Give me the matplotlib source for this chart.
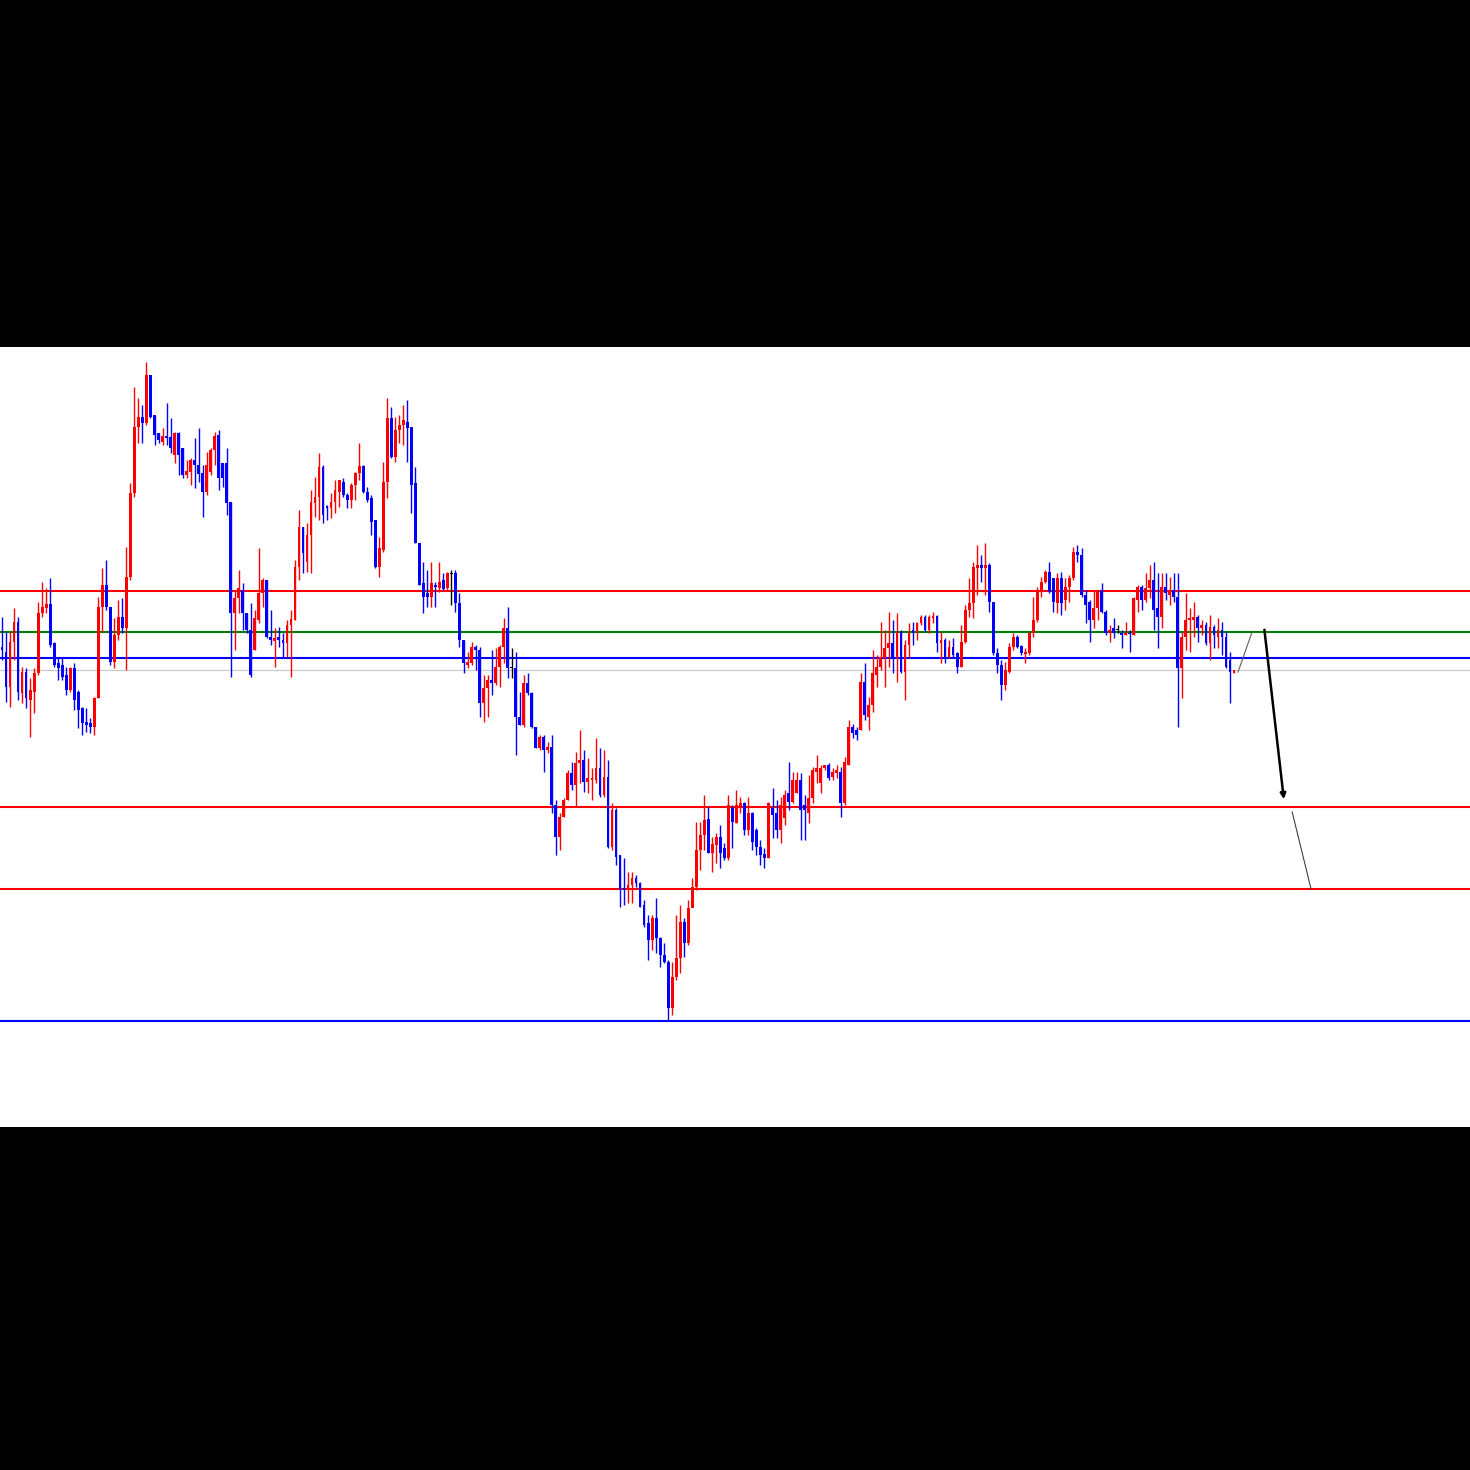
import numpy as np
import matplotlib
matplotlib.use("Agg")
import matplotlib.pyplot as plt

# candle data (price points), one entry per bar
opens = [853,848,813,858,878,807,828,800,808,827,
         887,892,896,857,837,835,825,810,832,808,
         792,778,777,773,802,893,915,893,838,865,
         883,872,923,1007,1073,1083,1077,1125,1085,1067,
         1058,1064,1063,1045,1067,1052,1025,1028,1040,1035,
         1027,1008,1028,1050,1065,1037,1037,998,887,902,
         910,887,870,850,880,907,920,863,859,863,
         860,857,875,880,933,973,938,965,997,1003,
         1033,994,992,998,1008,1018,1005,1000,1015,1027,
         1034,1008,1002,980,933,950,1018,1082,1043,1070,
         1075,1078,1073,1017,957,917,907,903,915,912,
         920,912,926,927,897,860,835,837,853,850,
         797,812,820,817,833,853,872,832,832,783,
         775,817,807,773,752,763,750,753,695,663,
         683,700,727,715,737,740,718,720,720,732,
         705,723,653,690,645,612,610,615,622,617,
         595,577,560,582,562,545,538,492,523,542,
         578,557,592,613,650,665,681,647,655,663,
         652,642,692,677,693,697,670,687,670,653,
         646,642,692,687,670,682,707,698,707,720,
         695,687,702,728,717,732,735,723,727,728,
         697,735,773,770,770,818,783,795,825,833,
         842,852,857,842,868,828,855,870,868,877,
         883,870,882,884,857,860,843,853,847,833,
         858,890,897,932,935,932,935,898,847,835,
         815,828,853,863,854,846,847,867,880,910,
         918,928,922,897,922,900,913,922,948,945,
         905,898,880,892,910,888,867,872,870,867,
         865,867,865,900,913,900,912,920,892,883,
         913,905,910,903,832,863,880,880,883,872,
         875,857,873,863,870,863,840,827]

closes = [850,813,858,878,808,828,802,810,827,887,
          893,896,855,835,832,823,810,832,800,790,
          777,775,773,802,893,915,893,838,865,883,
          872,923,1007,1073,1083,1077,1125,1083,1065,1060,
          1064,1062,1052,1067,1045,1025,1029,1040,1035,1026,
          1008,1035,1050,1064,1022,1022,997,887,902,912,
          887,870,825,882,907,920,863,860,862,860,
          857,875,881,933,973,947,965,998,1003,1033,
          985,992,998,1010,1020,1005,1000,1015,1027,1034,
          1008,1000,978,933,952,1018,1082,1043,1070,1075,
          1080,1072,1015,957,915,903,903,917,913,918,
          911,927,926,897,860,837,838,853,850,797,
          812,820,817,833,853,872,832,832,783,775,
          817,807,773,752,763,750,753,695,663,683,
          700,727,715,737,740,718,722,722,732,705,
          723,653,690,643,610,610,615,622,617,593,
          575,560,582,562,545,538,492,523,542,578,
          557,592,613,650,665,680,647,656,663,647,
          642,695,678,695,697,670,687,658,653,645,
          642,697,685,670,695,705,698,720,720,690,
          690,702,730,732,732,735,722,728,730,697,
          738,773,767,765,818,785,795,827,833,843,
          852,857,843,868,828,855,867,867,877,883,
          870,883,884,857,860,843,853,845,833,858,
          890,897,933,935,932,935,898,847,835,815,
          830,853,863,853,847,848,867,880,910,918,
          928,908,898,922,897,913,922,948,945,905,
          895,880,892,910,888,867,870,867,870,865,
          867,866,902,913,900,912,920,890,883,913,
          907,910,903,832,863,880,882,883,872,875,
          857,873,865,870,863,833,828,830]

highs = [883,868,868,892,883,833,832,822,832,898,
         918,912,922,858,842,842,833,833,837,810,
         793,792,782,803,903,932,940,893,882,900,
         902,953,1017,1113,1102,1095,1138,1125,1085,1067,
         1072,1097,1082,1068,1068,1052,1040,1042,1062,1072,
         1035,1048,1052,1068,1070,1037,1052,998,910,930,
         917,887,897,890,952,922,920,890,872,873,
         867,880,890,940,990,973,977,1010,1023,1047,
         1035,995,1007,1020,1020,1022,1007,1017,1028,1057,
         1035,1013,1005,980,963,1038,1102,1093,1083,1085,
         1095,1100,1073,1033,957,938,930,938,918,938,
         927,928,930,930,907,860,848,858,855,853,
         825,825,850,852,855,882,893,852,848,808,
         825,827,808,773,765,765,758,765,700,687,
         702,730,738,748,770,750,742,732,762,752,
         750,740,697,692,645,642,628,628,625,618,
         600,585,585,602,563,557,540,538,585,595,
         582,600,622,678,678,705,693,663,667,675,
         657,705,695,710,703,698,703,688,672,660,
         652,698,712,700,703,710,738,728,728,727,
         705,725,733,745,735,735,737,732,735,733,
         743,780,776,773,827,837,803,850,845,878,
         870,888,880,887,870,860,877,878,878,885,
         885,885,888,885,868,862,860,862,848,875,
         895,922,938,955,945,957,937,898,852,840,
         838,857,867,865,855,852,868,903,913,923,
         930,938,922,927,928,922,925,953,955,952,
         910,900,910,910,917,890,875,882,875,870,
         878,870,903,915,915,927,935,938,927,927,
         927,923,927,927,868,907,892,898,885,880,
         878,885,875,882,878,868,848,830]

lows = [840,798,793,840,800,797,792,763,787,825,
        883,887,853,833,820,820,805,808,790,772,
        765,768,767,765,802,868,890,835,832,860,
        867,830,920,1003,1057,1057,1075,1082,1055,1057,
        1055,1055,1047,1037,1025,1022,1022,1015,1012,1018,
        983,1005,1025,1035,1010,1013,985,823,850,887,
        870,867,823,850,877,893,862,855,833,853,
        843,843,823,880,920,927,928,927,983,980,
        977,980,982,987,993,1003,992,992,1000,1020,
        1007,998,965,932,923,948,1002,1042,1038,1057,
        1055,1038,987,957,915,887,893,893,893,908,
        910,910,895,888,853,827,832,835,830,783,
        778,783,805,815,813,837,822,822,745,775,
        773,805,772,752,750,728,747,687,645,650,
        683,700,710,693,717,708,707,700,717,703,
        703,652,650,635,593,595,597,597,613,593,
        573,540,550,547,533,537,480,485,520,527,
        543,555,593,610,630,650,647,628,637,632,
        640,640,652,677,687,665,665,650,645,635,
        632,642,662,662,657,675,690,697,707,660,
        660,677,697,717,707,730,720,720,722,683,
        695,735,762,760,770,780,770,788,813,830,
        813,833,827,818,827,800,843,855,860,875,
        868,867,877,848,837,837,842,843,827,833,
        857,883,882,905,918,905,888,845,827,800,
        810,827,850,852,845,837,845,863,878,903,
        917,907,888,887,885,890,898,920,938,903,
        877,858,872,880,887,865,858,862,867,852,
        865,848,865,888,890,898,902,870,852,872,
        900,895,898,773,802,850,848,863,858,865,
        855,840,852,852,845,832,797,827]

# horizontal levels
levels = [909, 868, 842, 830, 693, 611, 479]
level_colors = ['#ff0000', '#008000', '#0000ff', '#c8c8c8', '#ff0000', '#ff0000', '#0000ff']
level_widths = [1.5, 1.5, 1.5, 0.8, 1.5, 1.5, 1.5]

# projected path (bar index, price)
path1_x = [308, 311.5]
path1_y = [828, 868]
path2_x = [314.5, 319.5]
path2_y = [873, 698]
path3_x = [321.5, 326.2]
path3_y = [688, 611]

o = np.array(opens, dtype=float)
c = np.array(closes, dtype=float)
h = np.array(highs, dtype=float)
l = np.array(lows, dtype=float)
x = np.arange(len(o))

cols = np.where(c > o, '#ff0000', np.where(c < o, '#0000ff', '#000000'))

fig = plt.figure(figsize=(14.7, 14.7), dpi=100, facecolor='black')
ax = fig.add_axes([0, 343 / 1470, 1, 780 / 1470])
ax.set_facecolor('white')

for lv, lc, lw in zip(levels, level_colors, level_widths):
    ax.axhline(lv, color=lc, lw=lw, zorder=1)

ax.vlines(x, l, h, colors=cols, lw=1.0, zorder=2)
body = np.maximum(np.abs(c - o), 1.5)
ax.bar(x, body, bottom=np.minimum(o, c), width=0.7, color=cols, zorder=3)

ax.plot(path1_x, path1_y, color='#606060', lw=0.8, zorder=4)
ax.annotate('', xy=(path2_x[1], path2_y[1]), xytext=(path2_x[0], path2_y[0]),
            arrowprops=dict(arrowstyle='-|>', color='black', lw=1.8,
                            mutation_scale=8), zorder=4)
ax.plot(path3_x, path3_y, color='#404040', lw=0.8, zorder=4)

ax.set_xlim(-0.5, -0.5 + 1470 / 4.013)
ax.set_ylim(373, 1153)
ax.set_xticks([])
ax.set_yticks([])
for s in ax.spines.values():
    s.set_visible(False)

fig.savefig('out.png', dpi=100, facecolor='black')
